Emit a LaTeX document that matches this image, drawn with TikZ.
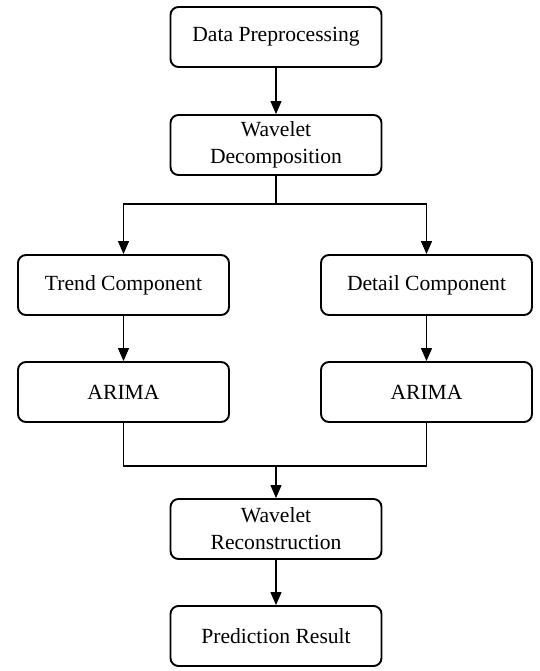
\documentclass[tikz,border=0pt]{standalone}
\usepackage{fontspec}
\setmainfont{Liberation Serif}
\usetikzlibrary{arrows.meta}
\begin{document}
\begin{tikzpicture}[x=1pt,y=-1pt,
  box/.style={draw, rounded corners=8pt, line width=1.9pt, minimum width=211pt, minimum height=60pt, align=center, inner sep=2pt, font=\fontsize{21.6}{27}\selectfont},
  conn/.style={line width=1.3pt},
  arr/.style={conn, -{Triangle[length=13pt,width=11pt]}}]
\useasboundingbox (0,0) rectangle (540,671);
\node[box] (dp) at (276,37) {Data Preprocessing};
\node[box] (wd) at (276,145) {Wavelet\\Decomposition};
\node[box] (tc) at (123.5,285) {Trend Component};
\node[box] (dc) at (426.5,285) {Detail Component};
\node[box] (al) at (123.5,392) {ARIMA};
\node[box] (ar) at (426.5,392) {ARIMA};
\node[box] (wr) at (276,529) {Wavelet\\Reconstruction};
\node[box] (pr) at (276,636) {Prediction Result};
\coordinate (split) at (276,204);
\coordinate (merge) at (276,466);
\draw[arr] (dp) -- (wd);
\draw[conn] (wd.south) -- (split);
\draw[arr] (split) -| (tc.north);
\draw[arr] (split) -| (dc.north);
\draw[arr] (tc) -- (al);
\draw[arr] (dc) -- (ar);
\draw[conn] (al.south) |- (merge);
\draw[conn] (ar.south) |- (merge);
\draw[arr] (merge) -- (wr.north);
\draw[arr] (wr) -- (pr);
\end{tikzpicture}
\end{document}
